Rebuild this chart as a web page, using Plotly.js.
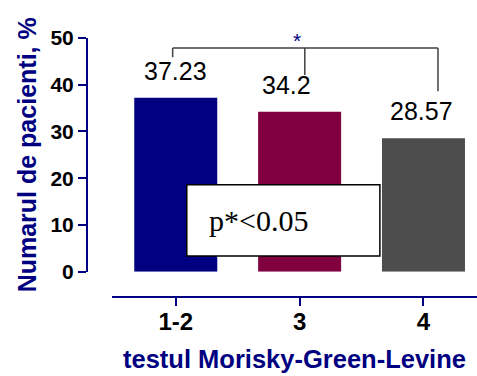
<!DOCTYPE html>
<html>
<head>
<meta charset="utf-8">
<script src="https://cdn.plot.ly/plotly-3.0.1.min.js"></script>
<style>html,body{margin:0;padding:0;background:#fff;}#chart{width:477px;height:376px;}</style>
</head>
<body>
<div id="chart"></div>
<script>
const categories = ["1-2", "3", "4"];
const values = [37.23, 34.2, 28.57];
const valueLabels = ["37.23", "34.2", "28.57"];
const barColors = ["#000080", "#800040", "#4d4d4d"];
const yTicks = [0, 10, 20, 30, 40, 50];
const xTitle = "testul Morisky-Green-Levine";
const yTitle = "Numarul de pacienti, %";
const noteText = "p*<0.05";
const starText = "*";

const NAVY = "#000080";
const SANS = "Arial, 'Liberation Sans', Helvetica, sans-serif";
const SERIF = "'Times New Roman', 'Liberation Serif', serif";

const trace = {
  type: "bar",
  x: categories,
  y: values,
  marker: {color: barColors, line: {width: 0}},
  hoverinfo: "none",
  showlegend: false
};

// value labels above bars (x given as category index)
const labelShift = [0, -13, -2];
const annotations = categories.map((c, i) => ({
  x: i, y: values[i], xref: "x", yref: "y",
  text: valueLabels[i], showarrow: false,
  xanchor: "center", yanchor: "bottom",
  xshift: labelShift[i], yshift: 11,
  font: {family: SANS, size: 25, color: "#000"}
}));

// star above bracket
annotations.push({
  x: 0.98, y: 50, xref: "x", yref: "y",
  text: starText, showarrow: false, xanchor: "center", yanchor: "middle",
  yshift: -2,
  font: {family: SANS, size: 21, color: NAVY}
});

// note text in box
annotations.push({
  x: 0.25, y: 11, xref: "x", yref: "y",
  text: noteText, showarrow: false, xanchor: "left", yanchor: "middle",
  font: {family: SERIF, size: 30, color: "#000"}
});

const bx = [0 - 0.025, 1 + 0.042, 2 + 0.117];
const bTop = 47.85;
const bLow = [45.9, 42.06, 38.6];
const lineStyle = {color: "#404040", width: 1.5};
const shapes = [
  {type: "line", xref: "x", yref: "y", x0: bx[0], x1: bx[2], y0: bTop, y1: bTop, line: lineStyle},
  ...bx.map((x, i) => ({type: "line", xref: "x", yref: "y", x0: x, x1: x, y0: bTop, y1: bLow[i], line: lineStyle})),
  {type: "rect", xref: "x", yref: "y", x0: 0.089, x1: 1.648, y0: 3.36, y1: 18.58,
   fillcolor: "#fff", line: {color: "#000", width: 1.5}, layer: "above"}
];

const layout = {
  width: 477, height: 376,
  margin: {l: 87, r: 0, t: 38, b: 79},
  paper_bgcolor: "#fff", plot_bgcolor: "#fff",
  bargap: 0.33,
  font: {family: SANS},
  xaxis: {
    type: "category",
    domain: [0.064, 1],
    range: [-0.515, 2.432],
    anchor: "free", position: 0,
    showline: true, linecolor: NAVY, linewidth: 2,
    ticks: "outside", ticklen: 8, tickwidth: 2, tickcolor: NAVY,
    ticklabelstandoff: -5,
    showgrid: false, zeroline: false,
    tickfont: {family: SANS, size: 24, color: "#000", weight: "bold"},
    title: {text: xTitle, font: {family: SANS, size: 25.5, color: NAVY, weight: "bold"}, standoff: 15},
    fixedrange: true
  },
  yaxis: {
    domain: [0.0977, 1],
    range: [0, 50],
    anchor: "free", position: 0,
    tickvals: yTicks,
    showline: true, linecolor: NAVY, linewidth: 2,
    ticks: "outside", ticklen: 8, tickwidth: 2, tickcolor: NAVY,
    showgrid: false, zeroline: false,
    tickfont: {family: SANS, size: 21, color: "#000", weight: "bold"},
    title: {text: yTitle, font: {family: SANS, size: 25, color: NAVY, weight: "bold"}, standoff: 6},
    fixedrange: true
  },
  annotations: annotations,
  shapes: shapes
};

Plotly.newPlot("chart", [trace], layout, {displayModeBar: false, staticPlot: true});
</script>
</body>
</html>
